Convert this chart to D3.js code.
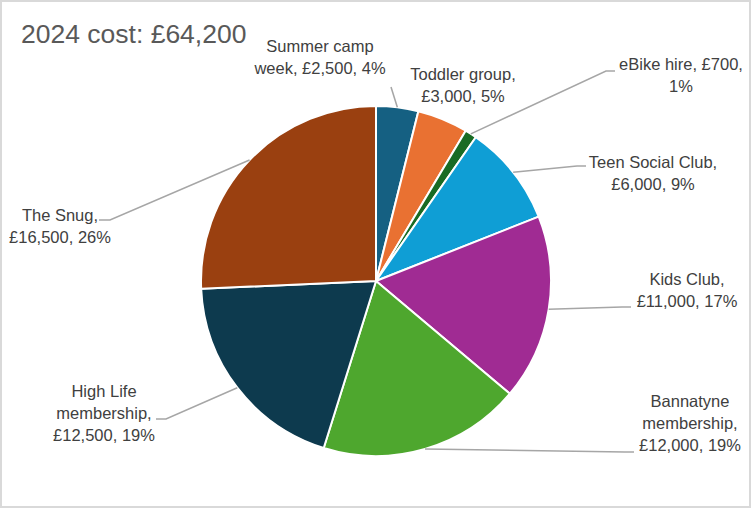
<!DOCTYPE html>
<html><head><meta charset="utf-8">
<script src="https://cdn.jsdelivr.net/npm/d3@7"></script>
<style>
html,body{margin:0;padding:0;background:#fff;}
svg{display:block;font-family:"Liberation Sans",Arial,sans-serif;}
</style></head>
<body>
<svg id="chart" width="752" height="509"></svg>
<script>
// ---- data ----
const titleText = "2024 cost: £64,200";
const categories = ["Summer camp week","Toddler group","eBike hire","Teen Social Club","Kids Club","Bannatyne membership","High Life membership","The Snug"];
const values = [2500, 3000, 700, 6000, 11000, 12000, 12500, 16500];
const colors = ["#156082","#E97132","#196B24","#0F9ED5","#A02B93","#4EA72E","#0D3A4E","#9A4010"];

// ---- layout (label placement, words per line, leader end) ----
const labelLayout = [
  {x:320, y:52, wrap:[2,3], end:[391,87], elbow:null},
  {x:463, y:80, wrap:[2,2], end:null, elbow:null},
  {x:681, y:70, wrap:[3,1], end:[615,71], elbow:[606,71]},
  {x:653, y:168, wrap:[3,2], end:[586,166], elbow:[577,166]},
  {x:687, y:285, wrap:[2,2], end:[631,307], elbow:[622,307]},
  {x:690, y:407, wrap:[1,1,2], end:[634,452], elbow:[625,452]},
  {x:104, y:397, wrap:[2,1,2], end:[156,419], elbow:[166,419]},
  {x:60, y:221, wrap:[2,2], end:[99,220], elbow:[110,220]}
];

const W = 752, H = 509;
const cx = 376, cy = 281, R = 175;
const svg = d3.select("#chart");

svg.append("rect").attr("x",1).attr("y",1).attr("width",W-3).attr("height",H-3)
  .attr("fill","#fff").attr("stroke","#d9d9d9").attr("stroke-width",2);

svg.append("text").attr("x",21).attr("y",43).attr("font-size",26.5).attr("fill","#595959")
  .text(titleText);

const total = d3.sum(values);
const data = categories.map((c,i)=>({name:c, value:values[i], i}));
const pie = d3.pie().value(d=>d.value).sort(null);
const arcs = pie(data);
const arc = d3.arc().innerRadius(0).outerRadius(R);

const g = svg.append("g").attr("transform",`translate(${cx},${cy})`);
g.selectAll("path").data(arcs).join("path")
  .attr("d",arc).attr("fill",d=>colors[d.data.i])
  .attr("stroke","#fff").attr("stroke-width",2).attr("stroke-linejoin","round");

// leader lines
const fmt = d3.format(",");
arcs.forEach(a=>{
  const L = labelLayout[a.data.i];
  if(!L.end) return;
  const mid = (a.startAngle + a.endAngle)/2;
  const px = cx + R*Math.sin(mid), py = cy - R*Math.cos(mid);
  const pts = [[px,py]];
  if(L.elbow) pts.push(L.elbow);
  pts.push(L.end);
  svg.append("path").attr("d", d3.line()(pts)).attr("fill","none")
    .attr("stroke","#a6a6a6").attr("stroke-width",1.5);
});

// labels
arcs.forEach(a=>{
  const L = labelLayout[a.data.i];
  const pct = Math.round(a.data.value/total*100);
  const full = `${a.data.name}, £${fmt(a.data.value)}, ${pct}%`;
  const words = full.split(" ");
  const lines = []; let k = 0;
  L.wrap.forEach(n=>{ lines.push(words.slice(k,k+n).join(" ")); k+=n; });
  const t = svg.append("text").attr("text-anchor","middle").attr("font-size",16.5).attr("fill","#404040");
  lines.forEach((ln,j)=>{
    t.append("tspan").attr("x",L.x).attr("y",L.y + j*22).text(ln);
  });
});
</script>
</body></html>
